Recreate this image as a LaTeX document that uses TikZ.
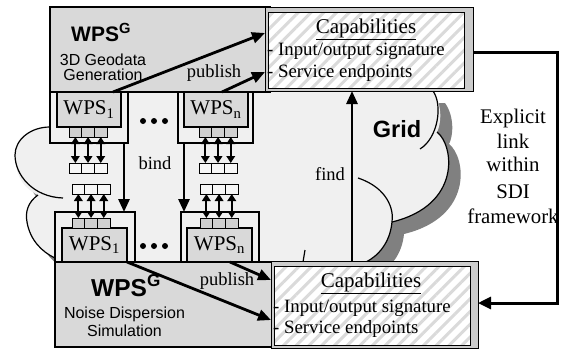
\documentclass[tikz,border=0pt]{standalone}
\usepackage{fontspec}
\setmainfont{Liberation Serif}
\setsansfont{Liberation Sans}
\usetikzlibrary{arrows.meta,patterns.meta,calc}
\definecolor{boxgray}{HTML}{D9D9D9}
\definecolor{cloudgray}{HTML}{F0F0F0}
\definecolor{shadowgray}{HTML}{808080}
\definecolor{portgray}{HTML}{D0D0D0}
\definecolor{portlight}{HTML}{F6F6F6}
\definecolor{bandgray}{HTML}{CCCCCC}
\definecolor{hatchgray}{HTML}{DADADA}
\tikzset{
  rbox/.style={rectangle, draw=black, inner sep=0pt, outer sep=0pt, anchor=north west},
  bigbox/.style={rbox, fill=boxgray, line width=1.5pt},
  container/.style={rbox, fill=cloudgray, line width=1.3pt},
  wpsbox/.style={rbox, fill=boxgray, line width=1.3pt, font=\fontsize{21}{24}\selectfont},
  porton/.style={rbox, fill=portgray, line width=1pt, minimum width=12.7pt, minimum height=10pt},
  portoff/.style={rbox, fill=portlight, line width=1pt, minimum width=12.7pt, minimum height=10pt},
  capout/.style={rbox, fill=bandgray, line width=1pt},
  capin/.style={rbox, line width=1pt, preaction={fill=white}, pattern={Lines[angle=45,distance=9pt,line width=3pt]}, pattern color=hatchgray},
  bigarrow/.style={line width=2.8pt, -{Triangle[length=13pt,width=11pt]}},
  portarrow/.style={line width=1.8pt, {Triangle[length=7pt,width=8.5pt]}-{Triangle[length=7pt,width=8.5pt]}},
  cloudline/.style={line width=1.2pt, black},
  lbl/.style={font=\fontsize{18.5}{20}\selectfont, inner sep=0pt, anchor=base},
  captitle/.style={font=\fontsize{21}{24}\selectfont, inner sep=0pt, anchor=base},
  capitem/.style={font=\fontsize{18.8}{22}\selectfont, inner sep=0pt, anchor=base west},
  linktext/.style={font=\fontsize{20.8}{24}\selectfont, inner sep=0pt, anchor=base},
  sanssub/.style={font=\sffamily\fontsize{16}{18}\selectfont, inner sep=0pt, anchor=base},
  dotnode/.style={circle, fill=black, inner sep=0pt, minimum size=6pt},
}
\newcommand\mybox[6]{\node[#1, minimum width=#5pt, minimum height=#6pt] (#2) at (#3,#4) {};}
\newcommand\portrow[4]{%
  \node[#4] (#1a) at (#2,#3) {};
  \node[#4] (#1b) at (#2+12.7,#3) {};
  \node[#4] (#1c) at (#2+25.4,#3) {};}
\begin{document}
\begin{tikzpicture}[x=1pt,y=-1pt]
\useasboundingbox (0,0) rectangle (561,349);
% cloud shadow and fill
\begin{scope}[shift={(12,12)}]
\fill[shadowgray] (50,91) -- (433,91) .. controls (443,105) and (441,125) .. (437,132)
  .. controls (454,145) and (462,205) .. (392,222) .. controls (390,243) and (378,256) .. (366,262)
  -- (55,262) -- (55,258) .. controls (42,252) and (30,240) .. (27,222)
  .. controls (25,212) and (28,202) .. (38,195) .. controls (20,187) and (15,170) .. (15,155)
  .. controls (15,140) and (30,127) .. (50,127) -- cycle;
\end{scope}
\fill[cloudgray] (50,91) -- (433,91) .. controls (443,105) and (441,125) .. (437,132)
  .. controls (454,145) and (462,205) .. (392,222) .. controls (390,243) and (378,256) .. (366,262)
  -- (55,262) -- (55,258) .. controls (42,252) and (30,240) .. (27,222)
  .. controls (25,212) and (28,202) .. (38,195) .. controls (20,187) and (15,170) .. (15,155)
  .. controls (15,140) and (30,127) .. (50,127) -- cycle;
\draw[cloudline] (50,127) .. controls (30,127) and (15,140) .. (15,155) .. controls (15,175) and (33,197) .. (63,198);
\draw[cloudline] (38,195) .. controls (28,202) and (25,212) .. (27,222) .. controls (30,240) and (42,252) .. (55,258);
\draw[cloudline] (433,91) .. controls (443,105) and (438,138) .. (420,149);
\draw[cloudline] (437,132) .. controls (454,145) and (462,205) .. (392,222);
\draw[cloudline] (358,178) .. controls (388,188) and (394,210) .. (392,222) .. controls (390,243) and (378,256) .. (366,262);
\draw[cloudline] (305,250) -- (303,262);
\node[font=\sffamily\bfseries\fontsize{23.5}{26}\selectfont, inner sep=0pt, anchor=base] at (397,137) {Grid};

% big WPS^G boxes
\mybox{bigbox}{wpsgtop}{50}{7}{220}{85}
\mybox{bigbox}{wpsgbot}{55}{262}{220}{85}
\node[font=\sffamily\bfseries\fontsize{21}{24}\selectfont, inner sep=0pt, anchor=base west] at (71,41.5) {WPS\textsuperscript{G}};
\node[sanssub] at (103,65) {3D Geodata};
\node[sanssub] at (103,80) {Generation};
\node[font=\sffamily\bfseries\fontsize{24.5}{27}\selectfont, inner sep=0pt, anchor=base west] at (91,296) {WPS\textsuperscript{G}};
\node[sanssub] at (124.5,318) {Noise Dispersion};
\node[sanssub] at (124.5,336) {Simulation};

% containers
\mybox{container}{tc1}{50}{92}{78}{51}
\mybox{container}{tcn}{178}{92}{75}{51}
\mybox{container}{bc1}{55}{212}{80}{50}
\mybox{container}{bcn}{181}{212}{78}{50}
\node[wpsbox, minimum width=64pt, minimum height=35pt] (tw1) at (57,92) {WPS\textsubscript{1}};
\node[wpsbox, minimum width=64pt, minimum height=35pt] (twn) at (184,92) {WPS\textsubscript{n}};
\node[wpsbox, minimum width=65pt, minimum height=34pt] (bw1) at (62,228) {WPS\textsubscript{1}};
\node[wpsbox, minimum width=65pt, minimum height=34pt] (bwn) at (187,228) {WPS\textsubscript{n}};

% ports
\portrow{tpa}{69}{127}{porton}
\portrow{tpd}{69}{163}{portoff}
\portrow{tna}{199}{127}{porton}
\portrow{tnd}{199}{163}{portoff}
\portrow{bpd}{72}{184}{portoff}
\portrow{bpa}{72}{218}{porton}
\portrow{bnd}{200}{184}{portoff}
\portrow{bna}{200}{218}{porton}
\foreach \k in {a,b,c}{
  \draw[portarrow] (tpa\k.south) -- (tpd\k.north);
  \draw[portarrow] (tna\k.south) -- (tnd\k.north);
  \draw[portarrow] (bpd\k.south) -- (bpa\k.north);
  \draw[portarrow] (bnd\k.south) -- (bna\k.north);
}

% dots
\node[dotnode] (d1) at (143,121) {};
\node[dotnode] (d2) at (154,121) {};
\node[dotnode] (d3) at (165,121) {};
\node[dotnode] (d4) at (143,246) {};
\node[dotnode] (d5) at (154,246) {};
\node[dotnode] (d6) at (165,246) {};

% bind arrows
\draw[bigarrow] ($(tc1.south east)+(-4,0)$) -- ($(bc1.north east)+(-11,0)$);
\draw[bigarrow] ($(tcn.south west)+(6,0)$) -- ($(bcn.north west)+(3,0)$);
\node[lbl] at (155,169) {bind};

% capabilities boxes
\mybox{capout}{tcapo}{265}{7}{208}{84}
\mybox{capin}{tcapi}{268}{12}{196}{76}
\mybox{capout}{bcapo}{271}{261}{207}{87}
\mybox{capin}{bcapi}{274}{266}{196}{79}
\node[captitle] at (366,33) {\underline{Capabilities}};
\node[capitem] at (267,55) {- Input/output signature};
\node[capitem] at (267,77.5) {- Service endpoints};
\node[captitle] at (371,287) {\underline{Capabilities}};
\node[capitem] at (273,312) {- Input/output signature};
\node[capitem] at (273,333) {- Service endpoints};

% publish arrows
\draw[bigarrow] ($(tw1.north east)+(-8,0)$) -- ($(tcapo.north west)+(0,26)$);
\draw[bigarrow] ($(twn.north east)+(-26,0)$) -- ($(tcapo.north west)+(0,65)$);
\node[lbl] at (214,77) {publish};
\draw[bigarrow] (bw1.south east) -- ($(bcapo.north west)+(0,59)$);
\draw[bigarrow] ($(bwn.south east)+(-22,0)$) -- ($(bcapo.north west)+(0,19)$);
\node[lbl] at (227,285) {publish};

% find arrow
\draw[bigarrow] ($(bcapo.north west)+(81,0)$) -- ($(tcapo.south west)+(87,0)$);
\node[lbl] at (330,180) {find};

% explicit link
\draw[line width=3pt, -{Triangle[length=13pt,width=12pt]}] ($(tcapo.north east)+(0,45)$) -| ($(bcapo.north east)+(79,42)$) -- ($(bcapo.north east)+(0,42)$);
\node[linktext] at (513,123) {Explicit};
\node[linktext] at (513,148) {link};
\node[linktext] at (513,171) {within};
\node[linktext] at (513,198) {SDI};
\node[linktext] at (513,223) {framework};
\end{tikzpicture}
\end{document}
